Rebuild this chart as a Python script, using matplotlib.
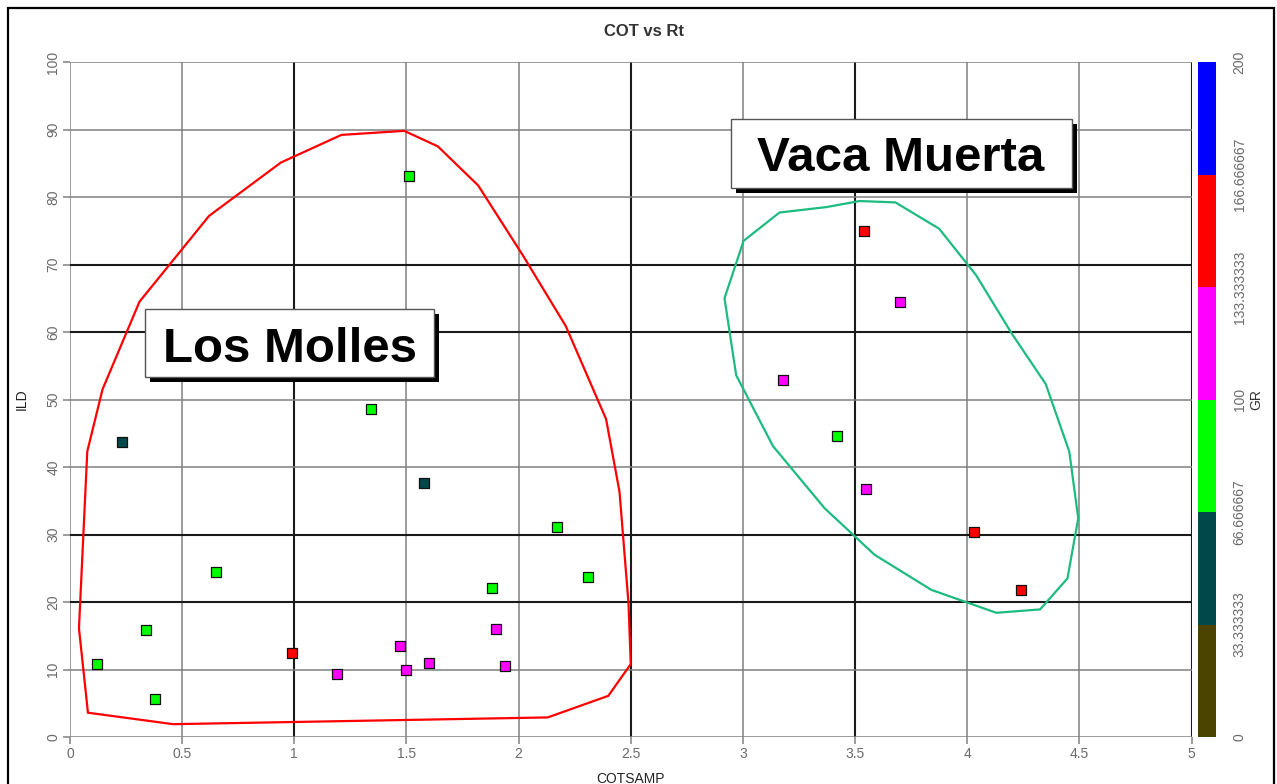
"""COT vs Rt crossplot: ILD against COTSAMP coloured by GR, with the
Los Molles and Vaca Muerta clusters outlined and labelled."""

import matplotlib
matplotlib.use("Agg")
import matplotlib.pyplot as plt
from matplotlib.colors import ListedColormap, BoundaryNorm
from matplotlib.patches import Rectangle, Polygon
from matplotlib.transforms import ScaledTranslation

plt.rcParams["font.family"] = ["Liberation Sans", "DejaVu Sans"]

# --- data ------------------------------------------------------------------
lm_cot = [1.51, 1.34, 0.23, 1.58, 2.17, 0.65, 2.31, 1.88, 0.34, 1.90, 1.47,
          0.99, 0.12, 1.60, 1.50, 1.94, 1.19, 0.38]
lm_ild = [83.1, 48.6, 43.7, 37.6, 31.1, 24.4, 23.7, 22.1, 15.8, 16.0, 13.5,
          12.5, 10.8, 10.9, 9.9, 10.5, 9.3, 5.7]
lm_gr = [85, 80, 55, 50, 85, 85, 90, 80, 80, 115, 120,
         150, 85, 115, 120, 110, 115, 80]

vm_cot = [3.54, 3.70, 3.18, 3.42, 3.55, 4.03, 4.24]
vm_ild = [74.9, 64.4, 52.9, 44.6, 36.8, 30.3, 21.8]
vm_gr = [150, 120, 115, 85, 120, 145, 155]

# hand-drawn outlines (COTSAMP, ILD)
lm_outline_x = [1.49, 1.64, 1.82, 2.02, 2.21, 2.39, 2.45, 2.49, 2.50, 2.40,
                2.13, 0.46, 0.08, 0.04, 0.077, 0.145, 0.31, 0.62, 0.94, 1.21]
lm_outline_y = [89.8, 87.5, 81.7, 71.3, 60.9, 47.1, 36.3, 19.8, 10.8, 6.1,
                2.9, 1.9, 3.6, 16.1, 42.3, 51.5, 64.5, 77.2, 85.1, 89.2]
vm_outline_x = [3.52, 3.68, 3.875, 4.04, 4.20, 4.35, 4.455, 4.495, 4.447, 4.325,
                4.13, 3.84, 3.587, 3.364, 3.134, 2.97, 2.918, 3.003, 3.163, 3.371]
vm_outline_y = [79.4, 79.2, 75.3, 68.4, 59.7, 52.3, 42.3, 32.4, 23.5, 18.9,
                18.4, 21.8, 27.0, 33.9, 43.1, 53.6, 65.0, 73.5, 77.7, 78.5]

x_ticks = [0, 0.5, 1, 1.5, 2, 2.5, 3, 3.5, 4, 4.5, 5]
x_ticklabels = ["0", "0.5", "1", "1.5", "2", "2.5", "3", "3.5", "4", "4.5", "5"]
y_ticks = [0, 10, 20, 30, 40, 50, 60, 70, 80, 90, 100]

gr_bounds = [0, 33.333333, 66.666667, 100, 133.333333, 166.666667, 200]
gr_ticklabels = ["0", "33.333333", "66.666667", "100", "133.333333",
                 "166.666667", "200"]
gr_colors = ["#4a4400", "#00484a", "#00ff00", "#ff00ff", "#ff0000", "#0000ff"]

# --- styling ------------------------------------------------------------------
GRID_LIGHT = "#808080"
GRID_DARK = "#1a1a1a"
TICK_INK = "#6a6a6a"
dark_x = {1, 2.5, 3.5, 5}
dark_y = {20, 30, 60, 70}

W, H = 1277, 784
fig = plt.figure(figsize=(W / 100, H / 100), dpi=100, facecolor="white")
ax = fig.add_axes([70 / W, 1 - 737 / H, (1191.5 - 70) / W, (737 - 62) / H])
cax = fig.add_axes([1198 / W, 1 - 737 / H, 18 / W, (737 - 62) / H])

ax.set_xlim(0, 5)
ax.set_ylim(0, 100)
for s in ax.spines.values():
    s.set_visible(False)

for xv in x_ticks:
    dark = xv in dark_x
    ax.axvline(xv, color=GRID_DARK if dark else GRID_LIGHT,
               lw=1.5 if dark else 1.1, zorder=1)
for yv in y_ticks:
    dark = yv in dark_y
    ax.axhline(yv, color=GRID_DARK if dark else GRID_LIGHT,
               lw=1.5 if dark else 1.1, zorder=1)

ax.set_xticks(x_ticks)
ax.set_xticklabels(x_ticklabels)
ax.set_yticks(y_ticks)
ax.set_yticklabels([str(v) for v in y_ticks], rotation=90, va="center")
ax.tick_params(axis="both", colors=GRID_LIGHT, labelcolor=TICK_INK,
               labelsize=10, length=5, width=1.1, pad=2)

ax.set_xlabel("COTSAMP", fontsize=10, color="#222222")
ax.xaxis.set_label_coords(0.5, -0.052)
ax.set_ylabel("ILD", fontsize=10, color="#222222")
ax.yaxis.set_label_coords(-0.037, 0.5)

fig.text(644 / W, 1 - 31 / H, "COT vs Rt", ha="center", va="center",
         fontsize=12, fontweight="bold", color="#333333")

# outlines
ax.add_patch(Polygon(list(zip(lm_outline_x, lm_outline_y)), closed=True,
                     fill=False, edgecolor="#ff0000", lw=1.6, zorder=3))
ax.add_patch(Polygon(list(zip(vm_outline_x, vm_outline_y)), closed=True,
                     fill=False, edgecolor="#1dbb80", lw=1.6, zorder=3))

# points
cmap = ListedColormap(gr_colors)
norm = BoundaryNorm(gr_bounds, cmap.N)
sc = ax.scatter(lm_cot + vm_cot, lm_ild + vm_ild, c=lm_gr + vm_gr, cmap=cmap,
                norm=norm, marker="s", s=52, edgecolors="#111111",
                linewidths=0.9, zorder=4)

# colour bar
cbar = fig.colorbar(sc, cax=cax, ticks=gr_bounds)
cbar.outline.set_visible(False)
cbar.ax.set_yticklabels(gr_ticklabels, rotation=90, va="center")
cbar.ax.tick_params(length=0, pad=12, labelsize=10, labelcolor=TICK_INK)
cbar.set_label("GR", fontsize=10, color="#333333", rotation=90, labelpad=2)

# labelled boxes with drop shadows
shadow = ax.transData + ScaledTranslation(5 / 100, -5 / 100, fig.dpi_scale_trans)
boxes = [
    ("Los Molles", 0.334, 53.3, 1.623, 63.4, 0.979, 55.5),
    ("Vaca Muerta", 2.945, 81.4, 4.466, 91.6, 3.702, 83.8),
]
for label, x0, y0, x1, y1, tx, ty in boxes:
    ax.add_patch(Rectangle((x0, y0), x1 - x0, y1 - y0, transform=shadow,
                           facecolor="black", edgecolor="none", zorder=5))
    ax.add_patch(Rectangle((x0, y0), x1 - x0, y1 - y0, facecolor="white",
                           edgecolor="#555555", lw=1.0, zorder=6))
    ax.text(tx, ty, label, ha="center", va="baseline", fontsize=35.5,
            fontweight="bold", color="black", zorder=7)

# outer frame (its bottom edge falls outside the picture)
fig.add_artist(Rectangle((8 / W, -0.05), (1274 - 8) / W, 1 - 8 / H + 0.05,
                         transform=fig.transFigure, fill=False,
                         edgecolor="black", lw=1.6, zorder=10))

fig.savefig("out.png", dpi=100, facecolor="white")
